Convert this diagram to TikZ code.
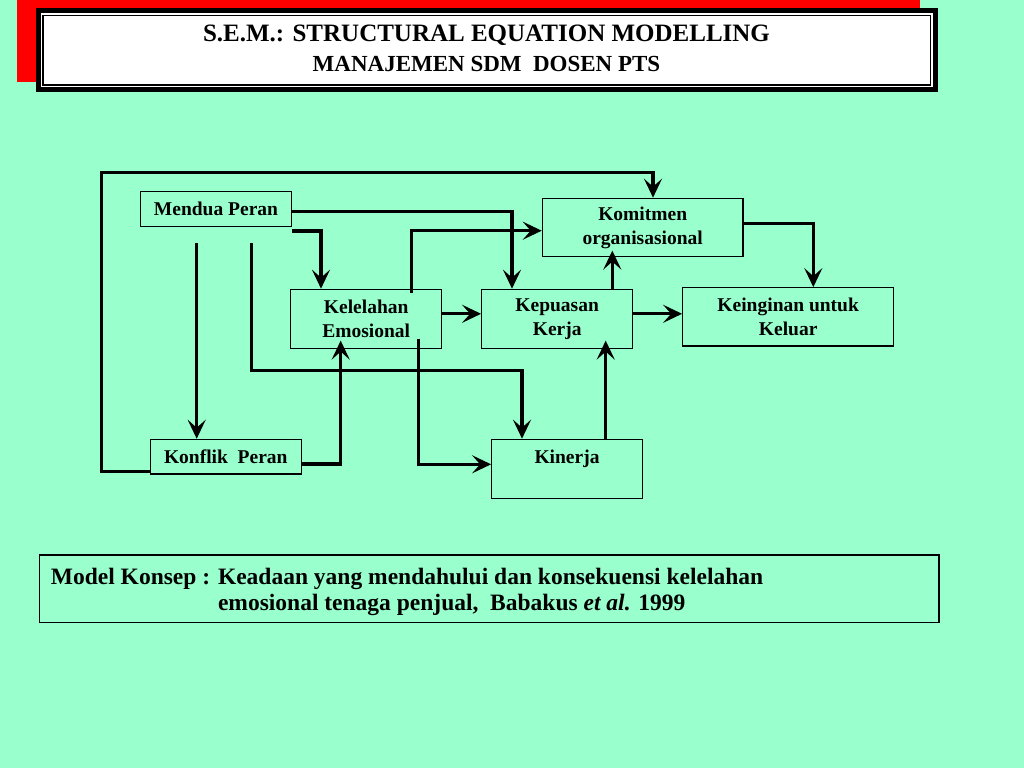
\documentclass[tikz,border=0pt]{standalone}
\usepackage{fontspec}
\setmainfont{Liberation Serif}
\usetikzlibrary{arrows.meta}
\definecolor{mint}{RGB}{153,255,204}

\begin{document}
\begin{tikzpicture}[
  x=1pt, y=-1pt,
  kotak/.style={draw=black, line width=1.2pt, align=center, inner sep=0pt, font=\bfseries\fontsize{19.5}{24}\selectfont},
  panah/.style={line width=3.2pt, -{Stealth[length=19pt, width=18pt, inset=8pt]}},
  judul/.style={inner sep=0pt, anchor=base},
  catatan/.style={inner sep=0pt, anchor=base west, font=\bfseries\fontsize{23.5}{24}\selectfont}
]
  \useasboundingbox (0,0) rectangle (1024,768);
  \fill[mint] (0,0) rectangle (1024,768);

  % Panel del título: sombra roja, marco negro y doble línea
  \fill[red] (16.7,0) rectangle (920.3,81.7);
  \fill[black] (35.7,8.3) rectangle (937.7,92.3);
  \fill[white] (40.7,13.3) rectangle (932.7,87.3);
  \draw[line width=1.3pt] (43,15.7) rectangle (930.4,84.9);
  \node[judul, font=\bfseries\fontsize{25}{30}\selectfont] (judul1) at (486.5,41.5) {S.E.M.: STRUCTURAL EQUATION MODELLING};
  \node[judul, font=\bfseries\fontsize{23}{30}\selectfont] (judul2) at (486.5,71.5) {MANAJEMEN SDM\ \ DOSEN PTS};

  % Variables del modelo
  \node[kotak, minimum width=151pt, minimum height=35pt] (mendua) at (216,209.2) {Mendua Peran};
  \node[kotak, minimum width=200.7pt, minimum height=58.4pt] (komit) at (642.7,227.5) {Komitmen\\organisasional};
  \node[kotak, minimum width=151pt, minimum height=59pt] (lelah) at (366.2,318.8) {Kelelahan\\Emosional};
  \node[kotak, minimum width=151pt, minimum height=59pt] (puas) at (557.2,318.8) {Kepuasan\\Kerja};
  \node[kotak, minimum width=211pt, minimum height=58.3pt] (keluar) at (788.2,316.9) {Keinginan untuk\\Keluar};
  \node[kotak, minimum width=151pt, minimum height=34.7pt] (konflik) at (225.8,456.7) {Konflik\ \ Peran};
  \node[kotak, minimum width=150.6pt, minimum height=59pt] (kinerja) at (567,468.8) {Kinerja\\\mbox{}};

  % Puntos de salida sueltos bajo Mendua Peran
  \coordinate (m1) at (196.7,243.3);
  \coordinate (m2) at (251.3,243.3);

  % Relaciones
  \draw[panah] ([yshift=-15pt]konflik.west) -- (101.7,471.7) |- (653,172.7) -- ([xshift=10.3pt]komit.north);
  \draw[panah] ([yshift=-2.5pt]mendua.east) -| ([xshift=-45.2pt]puas.north);
  \draw[panah] ([yshift=-3.6pt]mendua.south east) -| ([xshift=-45.2pt]lelah.north);
  \draw[panah] (m1) -- (m1 |- konflik.north);
  \draw[panah] (m2) |- (522,370.7) -- ([xshift=-45pt]kinerja.north);
  \draw[panah] ([xshift=45.5pt,yshift=-4pt]lelah.north) |- ([yshift=-3.2pt]komit.west);
  \draw[panah] ([yshift=5pt]lelah.east) -- ([yshift=5pt]puas.west);
  \draw[panah] ([yshift=5pt]puas.east) -- ([yshift=5pt]puas.east -| keluar.west);
  \draw[panah] ([xshift=55.1pt]puas.north) -- ([xshift=-30.4pt,yshift=6.7pt]komit.south);
  \draw[panah] ([yshift=3.8pt]komit.east) -| ([xshift=25.1pt]keluar.north);
  \draw[panah] ([yshift=-7.3pt]konflik.east) -| ([xshift=-25.5pt,yshift=8.3pt]lelah.south);
  \draw[panah] ([xshift=52.1pt,yshift=10pt]lelah.south) |- ([yshift=4.5pt]kinerja.west);
  \draw[panah] ([xshift=38.7pt]kinerja.north) -- ([xshift=48.5pt,yshift=8.3pt]puas.south);

  % Nota inferior
  \draw[line width=1.3pt] (39.3,555) rectangle (939,622.3);
  \node[catatan] (konsep1) at (50.7,584) {Model Konsep : Keadaan yang mendahului dan konsekuensi kelelahan};
  \node[catatan] (konsep2) at (50.7,610.5) {\phantom{Model Konsep : }emosional tenaga penjual,\ \ Babakus \textit{et al.} 1999};
\end{tikzpicture}
\end{document}
